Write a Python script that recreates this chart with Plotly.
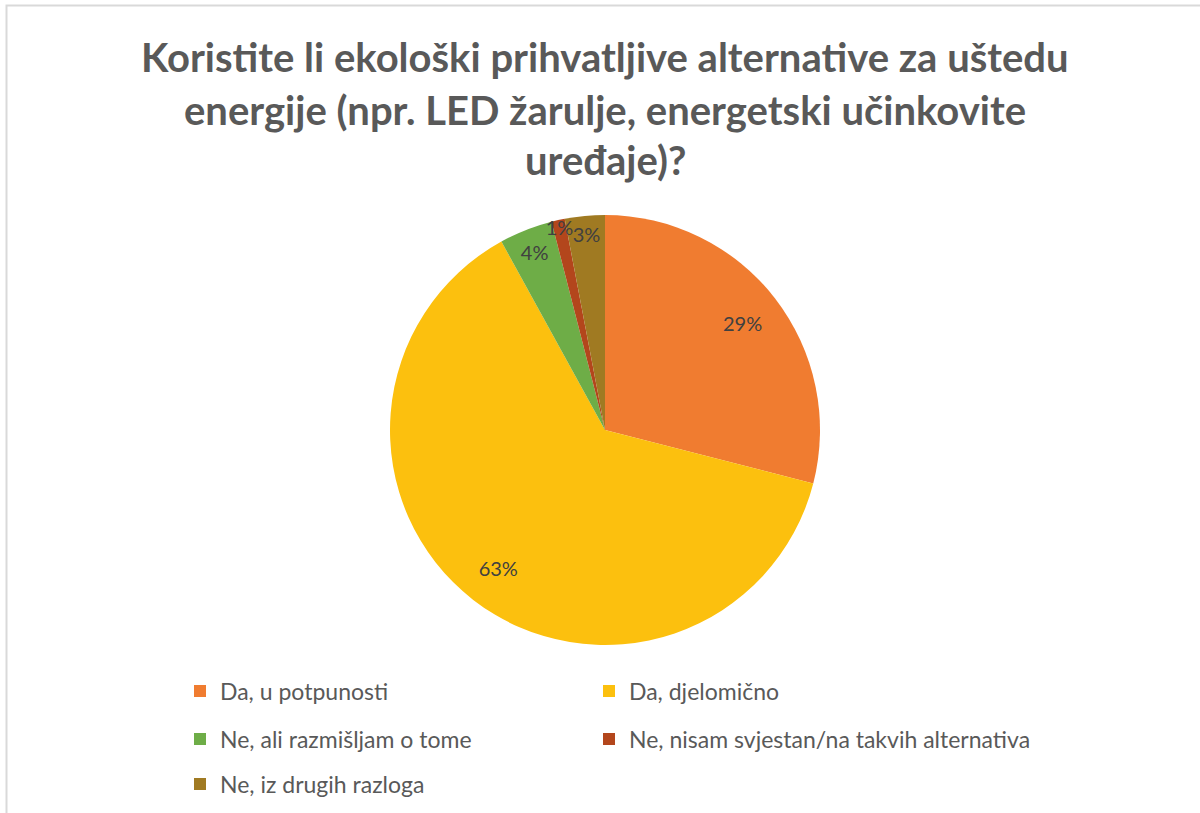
import plotly.graph_objects as go

categories = ["Da, u potpunosti", "Da, djelomično", "Ne, ali razmišljam o tome",
              "Ne, nisam svjestan/na takvih alternativa", "Ne, iz drugih razloga"]
values = [29, 63, 4, 1, 3]
colors = ["#F07C30", "#FCC00E", "#6EAD47", "#B3461C", "#A07A22"]
title_lines = ["Koristite li ekološki prihvatljive alternative za uštedu",
               "energije (npr. LED žarulje, energetski učinkovite",
               "uređaje)?"]

W, H = 1200, 813
pie_domain = dict(x=[390 / W, 820 / W], y=[1 - 645 / H, 1 - 215 / H])

fig = go.Figure()

# one legend per entry, laid out in two columns like the original
legend_names = ["legend", "legend2", "legend3", "legend4", "legend5"]
legend_pos = [(180, 691), (589, 691), (180, 739), (589, 739), (180, 784)]
cx = (pie_domain["x"][0] + pie_domain["x"][1]) / 2
cy = (pie_domain["y"][0] + pie_domain["y"][1]) / 2
for i, leg in enumerate(legend_names):
    fig.add_trace(go.Pie(
        labels=[categories[i]],
        values=[values[i]],
        marker=dict(colors=[colors[i]], line=dict(width=0)),
        sort=False, direction="clockwise", textinfo="none",
        domain=dict(x=[cx - 0.0005, cx + 0.0005], y=[cy - 0.0005, cy + 0.0005]),
        legend=leg, hoverinfo="skip",
    ))

# main pie
fig.add_trace(go.Pie(
    labels=categories,
    values=values,
    sort=False,
    direction="clockwise",
    rotation=0,
    marker=dict(colors=colors, line=dict(width=0)),
    textinfo="none",
    domain=pie_domain,
    showlegend=False,
    hoverinfo="label+percent",
))

# percentage labels placed in the outer ring of the pie
fig.add_trace(go.Pie(
    labels=categories,
    values=values,
    sort=False,
    direction="clockwise",
    rotation=0,
    hole=0.62,
    marker=dict(colors=["rgba(0,0,0,0)"] * len(values), line=dict(width=0)),
    texttemplate="%{percent:.0%}",
    textposition="inside",
    insidetextorientation="horizontal",
    textfont=dict(family="Lato", size=20, color="#404040"),
    domain=pie_domain,
    showlegend=False,
    hoverinfo="label+percent",
))

annotations = []
for line, yc in zip(title_lines, [57, 110, 160]):
    annotations.append(dict(
        text=line, x=605 / W, y=1 - yc / H, xref="paper", yref="paper",
        xanchor="center", yanchor="middle", showarrow=False,
        font=dict(family="Lato", size=40, color="#595959", weight="bold"),
    ))

legend_style = dict(
    orientation="h", xanchor="left", yanchor="middle",
    font=dict(family="Lato", size=23, color="#595959"),
    traceorder="normal", bgcolor="rgba(0,0,0,0)",
)
legends = {name: dict(legend_style, x=px / W, y=1 - py / H)
           for name, (px, py) in zip(legend_names, legend_pos)}

fig.update_layout(
    width=W, height=H,
    margin=dict(l=0, r=0, t=0, b=0),
    paper_bgcolor="white",
    plot_bgcolor="white",
    showlegend=True,
    uniformtext=dict(minsize=20, mode="show"),
    annotations=annotations,
    shapes=[dict(type="rect", xref="paper", yref="paper",
                 x0=6.5 / W, x1=1.2, y0=-0.2, y1=1 - 5.5 / H,
                 line=dict(color="#D9D9D9", width=2), fillcolor="rgba(0,0,0,0)")],
    **legends,
)

fig.write_html("out.html", config={"displayModeBar": False},
               post_script="document.body.style.margin='0px';")
